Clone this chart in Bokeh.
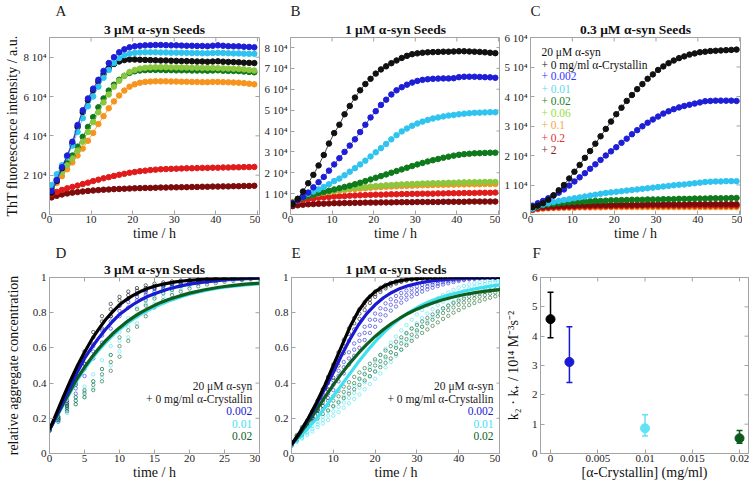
import math
from bokeh.plotting import figure
from bokeh.layouts import row, column
from bokeh.models import Range1d, FixedTicker, Label, Title, CustomJSTickFormatter
from bokeh.embed import file_html
from bokeh.resources import INLINE

# ---------------- data ----------------
conc_labels = ["0", "0.002", "0.01", "0.02", "0.06", "0.1", "0.2", "2"]

t_abc = [0.5, 1.75, 3.0, 4.25, 5.5, 6.75, 8.0, 9.25, 10.5, 11.75, 13.0, 14.25, 15.5, 16.75, 18.0, 19.25,
         20.5, 21.75, 23.0, 24.25, 25.5, 26.75, 28.0, 29.25, 30.5, 31.75, 33.0, 34.25, 35.5, 36.75, 38.0,
         39.25, 40.5, 41.75, 43.0, 44.25, 45.5, 46.75, 48.0, 49.25]

# Panel A, 3 uM seeds (ThT in units of 10^4)
a_black = [1.1,1.7,2.35,2.95,3.6,4.45,5.2,5.8,6.3,6.75,7.15,7.45,7.65,7.78,7.85,7.88,7.88,7.87,7.86,7.85,
           7.84,7.83,7.83,7.82,7.81,7.8,7.8,7.79,7.78,7.78,7.77,7.78,7.79,7.77,7.76,7.75,7.74,7.72,7.71,7.7]
a_blue = [1.2,1.75,2.4,3.0,3.7,4.55,5.3,5.9,6.4,6.85,7.3,7.7,8.0,8.25,8.4,8.5,8.55,8.58,8.6,8.61,
          8.62,8.62,8.61,8.6,8.6,8.59,8.58,8.58,8.57,8.57,8.56,8.58,8.6,8.58,8.56,8.55,8.55,8.53,8.52,8.5]
a_cyan = [1.5,2.05,2.5,2.95,3.5,4.2,4.9,5.5,6.0,6.5,6.95,7.35,7.7,7.95,8.1,8.18,8.22,8.24,8.25,8.25,
          8.25,8.24,8.24,8.23,8.23,8.22,8.22,8.21,8.21,8.2,8.2,8.21,8.22,8.21,8.2,8.19,8.19,8.18,8.17,8.17]
a_green = [1.35,1.8,2.2,2.6,3.0,3.45,3.95,4.45,4.95,5.45,5.9,6.3,6.6,6.85,7.05,7.2,7.28,7.32,7.34,7.35,
           7.35,7.35,7.34,7.34,7.33,7.33,7.33,7.32,7.32,7.32,7.31,7.32,7.33,7.31,7.3,7.3,7.29,7.27,7.25,7.23]
a_yg = [1.45,1.8,2.15,2.5,2.85,3.25,3.7,4.2,4.7,5.2,5.7,6.1,6.5,6.8,7.05,7.25,7.35,7.42,7.46,7.48,
        7.49,7.49,7.49,7.48,7.48,7.47,7.47,7.46,7.46,7.45,7.45,7.45,7.44,7.43,7.42,7.41,7.4,7.38,7.35,7.32]
a_orange = [1.25,1.6,1.95,2.3,2.65,3.0,3.35,3.75,4.15,4.6,5.0,5.4,5.75,6.05,6.3,6.5,6.62,6.7,6.74,6.76,
            6.77,6.77,6.77,6.76,6.76,6.75,6.75,6.74,6.74,6.73,6.73,6.74,6.74,6.73,6.72,6.71,6.7,6.68,6.65,6.62]
a_red = [1.05,1.15,1.25,1.33,1.4,1.47,1.55,1.62,1.7,1.77,1.84,1.9,1.96,2.02,2.07,2.12,2.16,2.2,2.23,2.26,
         2.28,2.3,2.31,2.32,2.33,2.34,2.35,2.35,2.36,2.37,2.37,2.38,2.38,2.39,2.39,2.4,2.4,2.41,2.41,2.42]
a_dred = [0.87,0.95,1.02,1.07,1.11,1.14,1.17,1.2,1.22,1.24,1.26,1.27,1.29,1.3,1.31,1.32,1.33,1.34,1.35,1.35,
          1.36,1.37,1.37,1.38,1.38,1.39,1.39,1.4,1.4,1.41,1.41,1.42,1.42,1.43,1.43,1.44,1.44,1.45,1.45,1.46]

# Panel B, 1 uM seeds
b_black = [0.5,0.75,1.1,1.5,1.9,2.35,2.85,3.4,3.9,4.3,4.8,5.2,5.6,5.95,6.25,6.5,6.75,6.95,7.1,7.25,
           7.38,7.5,7.6,7.68,7.72,7.75,7.77,7.78,7.79,7.8,7.8,7.81,7.82,7.82,7.81,7.8,7.79,7.77,7.75,7.73]
b_blue = [0.55,0.7,0.85,1.05,1.3,1.55,1.8,2.1,2.4,2.7,3.0,3.3,3.6,3.95,4.3,4.65,4.95,5.25,5.5,5.75,
          5.95,6.1,6.22,6.32,6.4,6.45,6.48,6.5,6.51,6.52,6.52,6.53,6.58,6.6,6.6,6.6,6.59,6.58,6.57,6.55]
b_cyan = [0.55,0.75,0.9,1.0,1.1,1.2,1.32,1.45,1.6,1.72,1.88,2.05,2.22,2.4,2.58,2.78,2.98,3.18,3.38,3.6,
          3.8,3.98,4.12,4.25,4.36,4.45,4.53,4.6,4.65,4.7,4.74,4.77,4.8,4.83,4.85,4.87,4.88,4.89,4.9,4.9]
b_green = [0.55,0.7,0.8,0.88,0.95,1.02,1.08,1.14,1.2,1.26,1.32,1.38,1.45,1.52,1.6,1.68,1.76,1.84,1.92,2.0,
           2.08,2.16,2.24,2.32,2.4,2.47,2.54,2.6,2.66,2.72,2.77,2.82,2.86,2.89,2.91,2.93,2.94,2.95,2.96,2.96]
b_yg = [0.55,0.72,0.82,0.9,0.96,1.01,1.06,1.1,1.14,1.18,1.21,1.24,1.27,1.3,1.32,1.34,1.36,1.38,1.4,1.41,
        1.43,1.44,1.45,1.46,1.47,1.48,1.49,1.5,1.5,1.51,1.52,1.52,1.53,1.54,1.54,1.55,1.55,1.56,1.56,1.56]
b_orange = [0.6,0.75,0.84,0.9,0.96,1.0,1.04,1.08,1.11,1.14,1.17,1.2,1.22,1.24,1.26,1.28,1.3,1.31,1.33,1.34,
            1.35,1.36,1.37,1.38,1.39,1.4,1.4,1.41,1.42,1.42,1.43,1.43,1.44,1.44,1.45,1.45,1.45,1.46,1.46,1.46]
b_red = [0.55,0.65,0.7,0.74,0.77,0.8,0.82,0.84,0.86,0.87,0.88,0.9,0.91,0.92,0.93,0.94,0.95,0.95,0.96,0.97,
         0.97,0.98,0.98,0.99,0.99,1.0,1.0,1.0,1.01,1.01,1.02,1.02,1.02,1.03,1.03,1.03,1.04,1.04,1.04,1.05]
b_dred = [0.4,0.44,0.47,0.49,0.5,0.51,0.52,0.53,0.54,0.54,0.55,0.55,0.56,0.56,0.57,0.57,0.57,0.58,0.58,0.58,
          0.59,0.59,0.59,0.59,0.6,0.6,0.6,0.6,0.6,0.61,0.61,0.61,0.61,0.61,0.62,0.62,0.62,0.62,0.62,0.62]

# Panel C, 0.3 uM seeds
c_black = [0.25,0.3,0.38,0.5,0.65,0.82,1.0,1.22,1.45,1.68,1.92,2.15,2.4,2.65,2.9,3.15,3.4,3.62,3.85,4.05,
           4.25,4.42,4.6,4.75,4.9,5.02,5.13,5.22,5.3,5.36,5.42,5.46,5.5,5.52,5.54,5.55,5.56,5.57,5.58,5.59]
c_blue = [0.3,0.38,0.46,0.55,0.64,0.74,0.85,0.98,1.12,1.26,1.4,1.55,1.7,1.85,2.0,2.14,2.28,2.43,2.57,2.72,
          2.86,2.99,3.11,3.22,3.32,3.42,3.5,3.57,3.63,3.68,3.72,3.76,3.8,3.84,3.85,3.86,3.86,3.86,3.86,3.85]
c_cyan = [0.2,0.28,0.34,0.38,0.42,0.46,0.49,0.52,0.55,0.58,0.61,0.64,0.67,0.7,0.73,0.75,0.77,0.79,0.81,0.83,
          0.85,0.87,0.89,0.91,0.93,0.95,0.97,0.99,1.01,1.02,1.04,1.06,1.08,1.1,1.11,1.12,1.12,1.13,1.13,1.13]
c_green = [0.2,0.27,0.31,0.34,0.36,0.38,0.4,0.41,0.42,0.43,0.44,0.45,0.46,0.46,0.47,0.48,0.48,0.49,0.49,0.5,
           0.5,0.5,0.51,0.51,0.51,0.52,0.52,0.52,0.53,0.53,0.53,0.54,0.54,0.54,0.55,0.55,0.55,0.55,0.56,0.56]
c_yg = [0.18,0.22,0.24,0.25,0.26,0.27,0.27,0.28,0.28,0.28,0.29,0.29,0.29,0.29,0.29,0.29,0.3,0.3,0.3,0.3,
        0.3,0.3,0.3,0.3,0.3,0.3,0.3,0.3,0.3,0.3,0.3,0.3,0.3,0.3,0.3,0.3,0.3,0.3,0.3,0.3]
c_orange = [0.15,0.18,0.2,0.21,0.22,0.22,0.23,0.23,0.23,0.24,0.24,0.24,0.24,0.24,0.25,0.25,0.25,0.25,0.25,0.25,
            0.25,0.25,0.25,0.25,0.25,0.25,0.25,0.25,0.25,0.25,0.25,0.25,0.25,0.25,0.25,0.25,0.25,0.25,0.25,0.25]
c_red = [0.16,0.2,0.22,0.23,0.24,0.25,0.25,0.26,0.26,0.27,0.27,0.27,0.28,0.28,0.28,0.28,0.29,0.29,0.29,0.29,
         0.3,0.3,0.3,0.3,0.3,0.3,0.3,0.3,0.3,0.3,0.3,0.3,0.3,0.3,0.3,0.3,0.3,0.3,0.3,0.3]
c_dred = [0.2,0.24,0.26,0.27,0.28,0.29,0.29,0.3,0.3,0.31,0.31,0.31,0.32,0.32,0.32,0.32,0.33,0.33,0.33,0.33,
          0.33,0.33,0.34,0.34,0.34,0.34,0.34,0.34,0.34,0.34,0.35,0.35,0.35,0.35,0.35,0.35,0.35,0.35,0.35,0.35]

# Panel D (3 uM seeds, normalised) : data replicates and fits
t_d = [0, 1.25, 2.5, 3.75, 5, 6.25, 7.5, 8.75, 10, 11.25, 12.5, 13.75, 15, 16.25, 17.5, 18.75, 20,
       21.25, 22.5, 23.75, 25, 26.25, 27.5, 28.75, 30]
d_black_r1 = [0.14,0.21,0.32,0.45,0.58,0.69,0.78,0.85,0.89,0.92,0.94,0.955,0.965,0.972,0.978,0.983,0.987,0.99,0.993,0.995,0.997,0.998,0.999,1.0,1.0]
d_black_r2 = [0.135,0.2,0.3,0.42,0.55,0.66,0.75,0.82,0.87,0.9,0.925,0.94,0.952,0.962,0.97,0.976,0.981,0.986,0.99,0.992,0.995,0.997,0.998,0.999,1.0]
d_black_r3 = [0.13,0.19,0.28,0.39,0.51,0.62,0.71,0.78,0.84,0.88,0.905,0.925,0.94,0.952,0.962,0.97,0.977,0.982,0.987,0.99,0.993,0.995,0.997,0.998,0.999]
d_blue_r1 = [0.14,0.2,0.29,0.4,0.51,0.61,0.7,0.78,0.84,0.88,0.91,0.93,0.945,0.957,0.967,0.975,0.981,0.986,0.99,0.993,0.995,0.997,0.998,0.999,1.0]
d_blue_r2 = [0.135,0.19,0.27,0.37,0.48,0.58,0.67,0.75,0.81,0.86,0.89,0.915,0.935,0.95,0.96,0.97,0.976,0.981,0.986,0.99,0.992,0.994,0.996,0.998,0.999]
d_blue_r3 = [0.13,0.18,0.25,0.34,0.44,0.54,0.63,0.71,0.78,0.83,0.87,0.9,0.92,0.937,0.95,0.96,0.968,0.975,0.981,0.985,0.989,0.992,0.995,0.997,0.998]
d_cyan_r1 = [0.14,0.2,0.26,0.32,0.38,0.45,0.53,0.61,0.69,0.77,0.83,0.88,0.91,0.935,0.952,0.965,0.974,0.981,0.986,0.99,0.993,0.995,0.997,0.998,0.999]
d_cyan_r2 = [0.135,0.19,0.25,0.3,0.35,0.41,0.48,0.56,0.64,0.72,0.79,0.85,0.89,0.92,0.94,0.955,0.965,0.975,0.98,0.985,0.99,0.992,0.995,0.997,0.998]
d_cyan_r3 = [0.13,0.18,0.23,0.28,0.32,0.37,0.43,0.5,0.58,0.66,0.74,0.8,0.85,0.89,0.915,0.935,0.95,0.962,0.971,0.978,0.984,0.988,0.991,0.994,0.996]
d_green_r1 = [0.14,0.21,0.27,0.32,0.36,0.41,0.48,0.56,0.66,0.75,0.82,0.87,0.905,0.93,0.948,0.962,0.972,0.98,0.985,0.989,0.992,0.995,0.997,0.998,0.999]
d_green_r2 = [0.135,0.2,0.26,0.3,0.34,0.39,0.45,0.52,0.61,0.7,0.78,0.84,0.88,0.91,0.93,0.95,0.96,0.97,0.975,0.98,0.985,0.99,0.99,0.995,0.997]
d_green_r3 = [0.13,0.19,0.24,0.28,0.32,0.36,0.41,0.47,0.55,0.64,0.72,0.78,0.83,0.87,0.9,0.92,0.937,0.95,0.96,0.968,0.975,0.98,0.985,0.989,0.992]

tf_d = [0,1,2,3,4,5,6,7,8,9,10,11,12,13,14,15,16,17,18,19,20,21,22,23,24,25,26,27,28,29,30]
fd_black = [0.135,0.23,0.325,0.415,0.5,0.575,0.645,0.705,0.76,0.805,0.845,0.875,0.9,0.92,0.937,0.95,0.96,0.968,0.975,0.98,0.984,0.987,0.99,0.992,0.994,0.995,0.996,0.997,0.998,0.998,0.999]
fd_blue = [0.135,0.215,0.3,0.385,0.465,0.54,0.6,0.655,0.705,0.75,0.79,0.82,0.848,0.872,0.892,0.908,0.922,0.935,0.945,0.954,0.962,0.968,0.974,0.978,0.982,0.986,0.989,0.991,0.993,0.995,0.996]
fd_cyan = [0.135,0.205,0.28,0.35,0.42,0.48,0.535,0.585,0.63,0.67,0.705,0.737,0.765,0.79,0.812,0.832,0.85,0.866,0.88,0.893,0.905,0.915,0.924,0.932,0.939,0.945,0.95,0.954,0.958,0.961,0.964]
fd_green = [0.135,0.21,0.285,0.36,0.43,0.49,0.545,0.595,0.64,0.68,0.715,0.747,0.775,0.8,0.822,0.842,0.86,0.875,0.888,0.9,0.911,0.92,0.929,0.936,0.943,0.949,0.954,0.958,0.962,0.965,0.968]

# Panel E (1 uM seeds, normalised)
t_e = [0, 1.25, 2.5, 3.75, 5, 6.25, 7.5, 8.75, 10, 11.25, 12.5, 13.75, 15, 16.25, 17.5, 18.75, 20,
       21.25, 22.5, 23.75, 25, 26.25, 27.5, 28.75, 30, 31.25, 32.5, 33.75, 35, 36.25, 37.5, 38.75, 40,
       41.25, 42.5, 43.75, 45, 46.25, 47.5, 48.75, 50]
e_black_r1 = [0.055,0.09,0.135,0.185,0.24,0.3,0.365,0.435,0.505,0.575,0.645,0.71,0.77,0.82,0.86,0.893,0.92,0.942,0.958,0.97,0.979,0.985,0.99,0.993,0.995,0.997,0.998,0.999,1,1,1,1,1,1,1,1,1,1,1,1,1]
e_black_r2 = [0.05,0.085,0.125,0.17,0.22,0.275,0.335,0.4,0.47,0.54,0.61,0.68,0.74,0.795,0.84,0.875,0.905,0.93,0.948,0.962,0.972,0.98,0.986,0.99,0.993,0.995,0.997,0.998,0.999,1,1,1,1,1,1,1,1,1,1,1,1]
e_black_r3 = [0.045,0.08,0.115,0.155,0.2,0.25,0.305,0.365,0.43,0.5,0.57,0.64,0.705,0.765,0.815,0.855,0.89,0.918,0.938,0.954,0.966,0.975,0.982,0.987,0.991,0.994,0.996,0.997,0.998,0.999,1,1,1,1,1,1,1,1,1,1,1]
e_blue_r1 = [0.055,0.085,0.12,0.165,0.21,0.26,0.31,0.36,0.415,0.47,0.52,0.575,0.625,0.675,0.72,0.76,0.795,0.825,0.853,0.876,0.895,0.912,0.926,0.938,0.949,0.958,0.966,0.972,0.978,0.983,0.987,0.99,0.993,0.995,0.997,0.998,0.999,1,1,1,1]
e_blue_r2 = [0.05,0.08,0.115,0.155,0.2,0.245,0.29,0.34,0.39,0.44,0.49,0.54,0.59,0.64,0.685,0.725,0.76,0.79,0.82,0.845,0.865,0.885,0.9,0.915,0.928,0.94,0.95,0.958,0.965,0.972,0.978,0.983,0.987,0.99,0.993,0.995,0.997,0.998,0.999,1.0,1.0]
e_blue_r3 = [0.045,0.075,0.105,0.145,0.185,0.225,0.27,0.315,0.36,0.41,0.455,0.505,0.555,0.6,0.645,0.685,0.72,0.755,0.785,0.812,0.835,0.857,0.875,0.892,0.906,0.92,0.932,0.942,0.951,0.96,0.967,0.974,0.98,0.985,0.989,0.992,0.995,0.997,0.998,0.999,1.0]
e_cyan_r1 = [0.055,0.075,0.1,0.125,0.155,0.18,0.21,0.24,0.265,0.295,0.325,0.355,0.385,0.42,0.455,0.49,0.525,0.56,0.595,0.63,0.665,0.7,0.73,0.76,0.79,0.815,0.84,0.862,0.882,0.9,0.915,0.93,0.942,0.952,0.961,0.968,0.974,0.979,0.983,0.986,0.989]
e_cyan_r2 = [0.05,0.07,0.09,0.115,0.14,0.165,0.19,0.215,0.24,0.265,0.29,0.315,0.345,0.375,0.405,0.435,0.47,0.505,0.54,0.575,0.61,0.645,0.68,0.71,0.74,0.77,0.795,0.82,0.842,0.862,0.88,0.897,0.912,0.925,0.937,0.947,0.956,0.963,0.97,0.975,0.98]
e_cyan_r3 = [0.045,0.065,0.085,0.105,0.125,0.15,0.17,0.19,0.215,0.235,0.26,0.285,0.31,0.335,0.365,0.395,0.425,0.455,0.49,0.52,0.555,0.59,0.625,0.655,0.69,0.72,0.75,0.775,0.8,0.822,0.842,0.86,0.877,0.892,0.906,0.918,0.929,0.938,0.946,0.953,0.96]
e_green_r1 = [0.065,0.105,0.15,0.185,0.215,0.245,0.27,0.3,0.325,0.355,0.38,0.405,0.435,0.46,0.485,0.51,0.535,0.56,0.585,0.61,0.635,0.66,0.685,0.71,0.73,0.75,0.77,0.79,0.808,0.825,0.84,0.855,0.868,0.88,0.891,0.901,0.91,0.918,0.925,0.931,0.936]
e_green_r2 = [0.06,0.1,0.14,0.17,0.2,0.225,0.25,0.275,0.3,0.325,0.35,0.375,0.4,0.425,0.45,0.475,0.5,0.525,0.55,0.575,0.6,0.625,0.65,0.675,0.7,0.72,0.74,0.76,0.78,0.798,0.815,0.83,0.845,0.858,0.87,0.881,0.891,0.9,0.908,0.915,0.921]
e_green_r3 = [0.055,0.09,0.125,0.155,0.18,0.2,0.225,0.245,0.27,0.29,0.315,0.34,0.365,0.39,0.415,0.44,0.465,0.49,0.515,0.54,0.565,0.59,0.615,0.64,0.665,0.685,0.705,0.725,0.745,0.765,0.782,0.8,0.815,0.83,0.843,0.855,0.866,0.876,0.885,0.893,0.9]

tf_e = [0,2,4,6,8,10,12,14,16,18,20,22,24,26,28,30,32,34,36,38,40,42,44,46,48,50]
fe_black = [0.05,0.12,0.2,0.29,0.39,0.5,0.61,0.72,0.81,0.875,0.92,0.95,0.97,0.982,0.99,0.994,0.997,0.998,0.999,1,1,1,1,1,1,1]
fe_blue = [0.05,0.12,0.195,0.28,0.37,0.46,0.56,0.65,0.73,0.795,0.845,0.885,0.915,0.938,0.954,0.966,0.975,0.982,0.987,0.991,0.994,0.996,0.997,0.998,0.999,1.0]
fe_cyan = [0.05,0.095,0.145,0.2,0.26,0.325,0.39,0.455,0.52,0.58,0.635,0.685,0.73,0.768,0.8,0.828,0.852,0.872,0.889,0.903,0.915,0.926,0.936,0.944,0.952,0.958]
fe_green = [0.05,0.11,0.18,0.25,0.32,0.39,0.455,0.515,0.57,0.62,0.665,0.705,0.74,0.77,0.797,0.82,0.84,0.857,0.872,0.885,0.896,0.906,0.914,0.921,0.927,0.932]

# Panel F
f_conc = [0, 0.002, 0.01, 0.02]
f_k = [4.58, 3.12, 0.86, 0.52]
f_lo = [3.95, 2.42, 0.6, 0.35]
f_hi = [5.5, 4.32, 1.32, 0.78]

# tick values and tick labels
sup = "\u2074"
x50_t = [0, 10, 20, 30, 40, 50]
x50_l = ["0", "10", "20", "30", "40", "50"]
yA_t = [0, 2, 4, 6, 8]
yA_l = ["0", "2 10" + sup, "4 10" + sup, "6 10" + sup, "8 10" + sup]
yB_t = [0, 1, 2, 3, 4, 5, 6, 7, 8]
yB_l = ["0"] + ["%d 10%s" % (v, sup) for v in yB_t[1:]]
yC_t = [0, 1, 2, 3, 4, 5, 6]
yC_l = ["0"] + ["%d 10%s" % (v, sup) for v in yC_t[1:]]
xD_t = [0, 5, 10, 15, 20, 25, 30]
xD_l = ["0", "5", "10", "15", "20", "25", "30"]
yD_t = [0, 0.2, 0.4, 0.6, 0.8, 1]
yD_l = ["0", "0.2", "0.4", "0.6", "0.8", "1"]
xF_t = [0, 0.005, 0.01, 0.015, 0.02]
xF_l = ["0", "0.005", "0.01", "0.015", "0.02"]
yF_t = [0, 1, 2, 3, 4, 5, 6]
yF_l = ["0", "1", "2", "3", "4", "5", "6"]

# ---------------- style ----------------
FONT = "Liberation Serif"
GRAY = "#a3a3a3"
COL = {"black": "#111111", "blue": "#1e1ed6", "cyan": "#2fc3f0", "green": "#0e7a1b",
       "yg": "#8cc63e", "orange": "#f7941e", "red": "#e01b1b", "dred": "#7d0b0b"}
COL_FIT = {"black": "#000000", "blue": "#1a1ad2", "cyan": "#3fe0f2", "green": "#0d5e1f"}
LEG_C = ["#111111", "#111111", "#3535ff", "#62d8f0", "#1f7f2a", "#98dc3c", "#f6a545", "#e03030", "#8b1a1a"]


def style_axis(ax, ticks, labels, standoff, label, label_standoff):
    ax.ticker = FixedTicker(ticks=ticks)
    ax.formatter = CustomJSTickFormatter(
        args=dict(tv=ticks, tl=labels),
        code="for (let i = 0; i < tv.length; i++) { if (Math.abs(tv[i] - tick) < 1e-9) { return tl[i]; } } return '';")
    ax.axis_line_color = GRAY
    ax.major_tick_line_color = GRAY
    ax.major_tick_in = 4
    ax.major_tick_out = 0
    ax.minor_tick_line_color = None
    ax.major_label_text_font = FONT
    ax.major_label_text_font_size = "11px"
    ax.major_label_text_color = "#222222"
    ax.major_label_standoff = standoff
    if label:
        ax.axis_label = label
        ax.axis_label_text_font = FONT
        ax.axis_label_text_font_size = "14px"
        ax.axis_label_text_font_style = "normal"
        ax.axis_label_text_color = "#111111"
        ax.axis_label_standoff = label_standoff


def make_fig(xr, yr, fw, fh, bl, br, bt, bb, xt, xl, yt, yl, letter, title, letter_offset, letter_standoff,
             xlabel="time / h", ylabel=None, ylabel_standoff=0):
    p = figure(x_range=Range1d(*xr), y_range=Range1d(*yr), frame_width=fw, frame_height=fh,
               min_border_left=bl, min_border_right=br, min_border_top=bt, min_border_bottom=bb,
               output_backend="svg", toolbar_location=None, tools="")
    p.grid.visible = False
    p.outline_line_color = GRAY
    style_axis(p.xaxis[0], xt, xl, 1, xlabel, 0)
    style_axis(p.yaxis[0], yt, yl, 3, ylabel, ylabel_standoff)
    # inward mirror ticks on the top and right frame edges (half of each dash is clipped away)
    p.scatter(xt, [yr[1]] * len(xt), marker="dash", angle=math.pi / 2, size=8, line_color=GRAY, line_width=1)
    p.scatter([xr[1]] * len(yt), yt, marker="dash", size=8, line_color=GRAY, line_width=1)
    p.add_layout(Title(text=title, align="center", text_font=FONT, text_font_size="13.5px",
                       text_font_style="bold", text_color="#111111", standoff=2), "above")
    p.add_layout(Title(text=letter, align="left", offset=letter_offset, text_font=FONT,
                       text_font_size="15px", text_font_style="normal", text_color="#222222",
                       standoff=letter_standoff), "above")
    return p


def lab(p, x, y, text, color="#111111", align="left"):
    p.add_layout(Label(x=x, y=y, text=text, text_font=FONT, text_font_size="11.5px", text_color=color,
                       text_align=align, text_baseline="middle"))


def tht_panel(p, series):
    for key, ys in series:
        p.line(t_abc, ys, line_color=COL[key], line_width=0.8)
        p.scatter(t_abc, ys, size=5.5, fill_color=COL[key], line_color=COL[key])


# ---------------- Panel A ----------------
pA = make_fig((0, 50.5), (0, 9), 210, 177, 49, 1, 36, 31, x50_t, x50_l, yA_t, yA_l,
              "A", "3 \u03bcM \u03b1-syn Seeds", 6, 0,
              ylabel="ThT fluorescence intensity / a.u.", ylabel_standoff=0)
tht_panel(pA, [("dred", a_dred), ("red", a_red), ("orange", a_orange), ("green", a_green), ("yg", a_yg),
               ("black", a_black), ("cyan", a_cyan), ("blue", a_blue)])

# ---------------- Panel B ----------------
pB = make_fig((0, 50.5), (0, 8.48), 210, 177, 30, 0, 36, 31, x50_t, x50_l, yB_t, yB_l,
              "B", "1 \u03bcM \u03b1-syn Seeds", 0, 0)
tht_panel(pB, [("dred", b_dred), ("red", b_red), ("orange", b_orange), ("yg", b_yg), ("green", b_green),
               ("cyan", b_cyan), ("blue", b_blue), ("black", b_black)])

# ---------------- Panel C ----------------
pC = make_fig((0, 50.2), (0, 6), 210, 177, 30, 2, 36, 31, x50_t, x50_l, yC_t, yC_l,
              "C", "0.3 \u03bcM \u03b1-syn Seeds", 0, 0)
tht_panel(pC, [("orange", c_orange), ("yg", c_yg), ("red", c_red), ("dred", c_dred), ("green", c_green),
               ("cyan", c_cyan), ("blue", c_blue), ("black", c_black)])
leg_c = ["20 \u03bcM \u03b1-syn", "+ 0 mg/ml \u03b1-Crystallin"] + ["+ " + c for c in conc_labels[1:]]
leg_c_y = [5.50, 5.07, 4.68, 4.26, 3.85, 3.43, 3.02, 2.61, 2.19]
for txt, yy, cc in zip(leg_c, leg_c_y, LEG_C):
    lab(pC, 2.6, yy, txt, color=cc)

# ---------------- Panel D ----------------
pD = make_fig((0, 30), (0, 1), 210, 176, 49, 1, 32, 31, xD_t, xD_l, yD_t, yD_l,
              "D", "3 \u03bcM \u03b1-syn Seeds", 6, -5,
              ylabel="relative aggregate concentration", ylabel_standoff=9)
for key, reps in [("black", (d_black_r1, d_black_r2, d_black_r3)), ("blue", (d_blue_r1, d_blue_r2, d_blue_r3)),
                  ("cyan", (d_cyan_r1, d_cyan_r2, d_cyan_r3)), ("green", (d_green_r1, d_green_r2, d_green_r3))]:
    for r in reps:
        pD.scatter(t_d, r, size=3.4, fill_color=None, line_color=COL_FIT[key], line_width=0.7, line_alpha=0.8)
for key, ys in [("cyan", fd_cyan), ("green", fd_green), ("blue", fd_blue), ("black", fd_black)]:
    pD.line(tf_d, ys, line_color=COL_FIT[key], line_width=3.2)
leg_de = ["20 \u03bcM \u03b1-syn", "+ 0 mg/ml \u03b1-Crystallin", "0.002", "0.01", "0.02"]
leg_de_c = ["#222222", "#222222", COL_FIT["blue"], COL_FIT["cyan"], COL_FIT["green"]]
leg_de_y = [0.381, 0.310, 0.239, 0.170, 0.102]
for txt, yy, cc in zip(leg_de, leg_de_y, leg_de_c):
    lab(pD, 28.95, yy, txt, color=cc, align="right")

# ---------------- Panel E ----------------
pE = make_fig((0, 50), (0, 1), 209, 176, 31, 0, 32, 31, x50_t, x50_l, yD_t, yD_l,
              "E", "1 \u03bcM \u03b1-syn Seeds", 0, -5)
for key, reps in [("black", (e_black_r1, e_black_r2, e_black_r3)), ("blue", (e_blue_r1, e_blue_r2, e_blue_r3)),
                  ("cyan", (e_cyan_r1, e_cyan_r2, e_cyan_r3)), ("green", (e_green_r1, e_green_r2, e_green_r3))]:
    for r in reps:
        pE.scatter(t_e, r, size=3.4, fill_color=None, line_color=COL_FIT[key], line_width=0.7, line_alpha=0.8)
for key, ys in [("cyan", fe_cyan), ("green", fe_green), ("blue", fe_blue), ("black", fe_black)]:
    pE.line(tf_e, ys, line_color=COL_FIT[key], line_width=3.2)
for txt, yy, cc in zip(leg_de, leg_de_y, leg_de_c):
    lab(pE, 48.33, yy, txt, color=cc, align="right")

# ---------------- Panel F ----------------
pF = make_fig((-0.00106, 0.02095), (0, 6), 208, 176, 40, 1, 32, 31, xF_t, xF_l, yF_t, yF_l,
              "F", " ", -8, -5, xlabel="[\u03b1-Crystallin] (mg/ml)",
              ylabel="k\u2082 \u00b7 k\u208a / 10\u00b9\u2074 M\u207b\u00b3s\u207b\u00b2", ylabel_standoff=8)
f_cols = [COL_FIT["black"], "#1a1ad2", "#5fe3f5", "#0d5a1d"]
pF.segment(x0=f_conc, y0=f_lo, x1=f_conc, y1=f_hi, line_color=f_cols, line_width=1.5)
pF.scatter(f_conc, f_lo, marker="dash", size=6, line_color=f_cols, line_width=1.5)
pF.scatter(f_conc, f_hi, marker="dash", size=6, line_color=f_cols, line_width=1.5)
pF.scatter(f_conc, f_k, size=9, fill_color=f_cols, line_color=f_cols)

layout = column(row(pA, pB, pC), row(pD, pE, pF))
open("out.html", "w").write(file_html(layout, INLINE))
